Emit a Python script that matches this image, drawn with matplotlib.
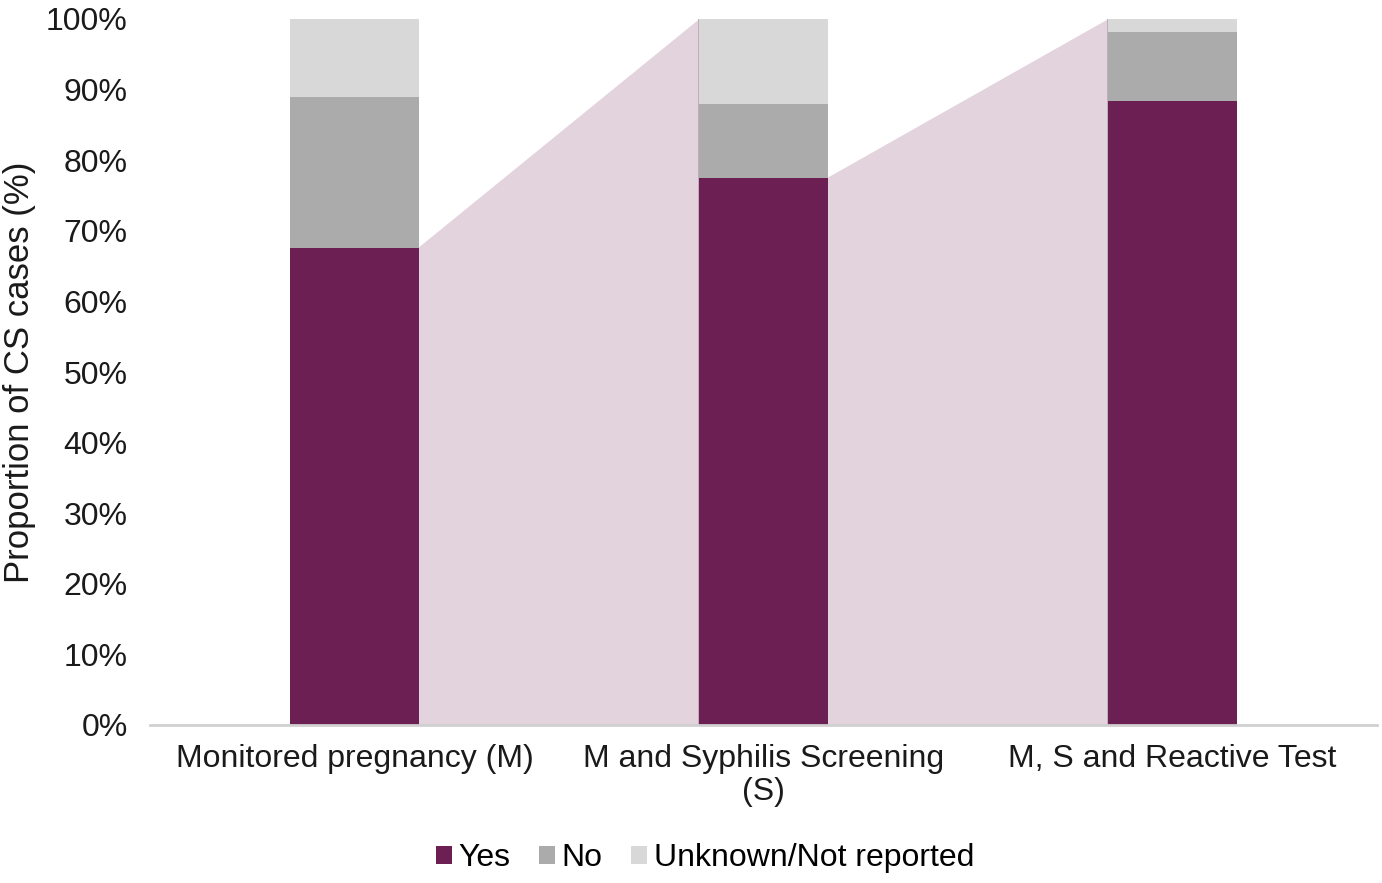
import matplotlib.pyplot as plt
import numpy as np

plt.rcParams['font.family'] = ['Liberation Sans', 'DejaVu Sans']

categories = ["Monitored pregnancy (M)", "M and Syphilis Screening\n(S)", "M, S and Reactive Test"]
yes = [67.6, 77.5, 88.4]
no = [21.3, 10.5, 9.8]
unknown = [11.1, 12.0, 1.8]

c_yes = '#6B1F53'
c_no = '#ABABAB'
c_unk = '#D8D8D8'
c_fill = '#E2D3DD'

fig = plt.figure(figsize=(13.82, 8.83), dpi=100)
ax = fig.add_axes([150 / 1382, 1 - 725 / 883, 1227 / 1382, 706 / 883])

x = np.arange(len(categories))
w = 0.313
yes_a = np.array(yes) / 100
no_a = np.array(no) / 100
unk_a = np.array(unknown) / 100

# funnel connectors between bars
for i in range(len(categories) - 1):
    x0 = x[i] + w / 2
    x1 = x[i + 1] - w / 2
    ax.fill([x0, x0, x1, x1], [0, yes_a[i], 1.0, 0], color=c_fill, lw=0, zorder=1)
    ax.plot([x1, x1], [0, 1.0], color='#B8A8B3', lw=1.2, zorder=1.5)

ax.bar(x, yes_a, w, color=c_yes, label='Yes', zorder=2)
ax.bar(x, no_a, w, bottom=yes_a, color=c_no, label='No', zorder=2)
ax.bar(x, unk_a, w, bottom=yes_a + no_a, color=c_unk, label='Unknown/Not reported', zorder=2)

ax.set_xlim(-0.5, 2.5)
ax.set_ylim(0, 1.0)
ticks = np.arange(0, 1.01, 0.1)
ax.set_yticks(ticks)
ax.set_yticklabels([f"{int(round(v * 100))}%" for v in ticks], fontsize=23, color='#1a1a1a')
ax.set_xticks(x)
ax.set_xticklabels(categories, fontsize=23, color='#1a1a1a', linespacing=1.1)
ax.tick_params(axis='x', length=0, pad=14)
ax.tick_params(axis='y', length=0, pad=16)
for s in ['top', 'right', 'left']:
    ax.spines[s].set_visible(False)
ax.spines['bottom'].set_color('#D0D0D0')
ax.spines['bottom'].set_linewidth(2)
ax.spines['bottom'].set_zorder(3)

ax.set_ylabel('Proportion of CS cases (%)', fontsize=25, color='#1a1a1a')
ax.yaxis.set_label_coords(-0.093, 0.5)

fig.legend(loc='center', bbox_to_anchor=(705 / 1382, 1 - 858 / 883), ncol=3, frameon=False,
           fontsize=23, handlelength=0.5, handleheight=0.5, handletextpad=0.2, columnspacing=0.9)

fig.savefig('out.png', dpi=100)
